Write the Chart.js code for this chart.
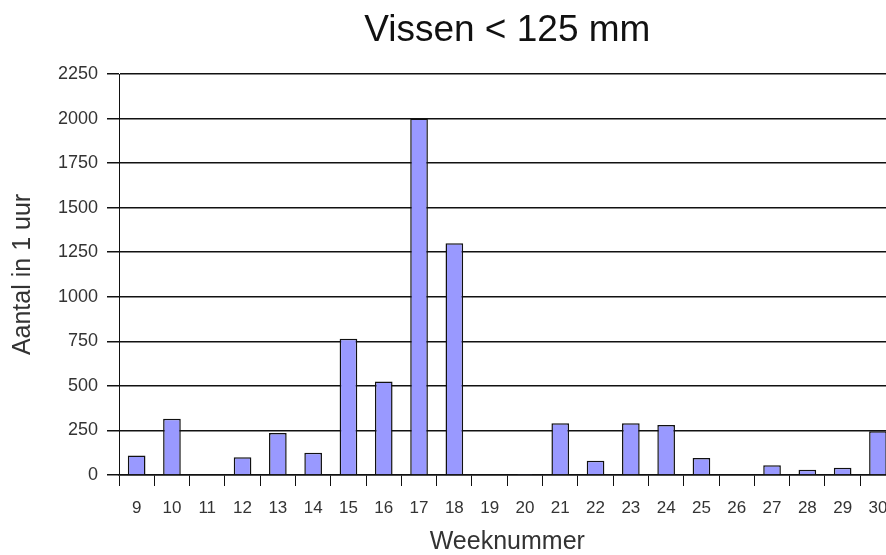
<!DOCTYPE html>
<html lang="nl">
<head>
    <meta charset="UTF-8">
    <title>Vissen &lt; 125 mm</title>
    <script src="https://cdn.jsdelivr.net/npm/chart.js"></script>
    <style>
        html, body {
            margin: 0;
            padding: 0;
            background: #ffffff;
            overflow: hidden;
        }
        .chart-container {
            width: 900px;
            height: 555px;
        }
    </style>
</head>
<body>
    <div class="chart-container">
        <canvas id="fish-chart" width="900" height="555"></canvas>
    </div>

    <script>
        // Weeknummers (x-as)
        const weeks = ['9', '10', '11', '12', '13', '14', '15', '16', '17', '18', '19',
                       '20', '21', '22', '23', '24', '25', '26', '27', '28', '29', '30'];

        // Aantal vissen < 125 mm per uur
        const counts = [110, 315, 0, 100, 235, 125, 765, 525, 2000, 1300, 0,
                        6, 290, 80, 290, 280, 95, 0, 55, 30, 40, 245];

        // y-as
        const yMin = 0;
        const yMax = 2250;
        const yStep = 250;

        const fontFamily = '"Liberation Sans", Arial, sans-serif';

        const ctx = document.getElementById('fish-chart').getContext('2d');

        new Chart(ctx, {
            type: 'bar',
            data: {
                labels: weeks,
                datasets: [{
                    label: 'Vissen < 125 mm',
                    data: counts,
                    backgroundColor: '#9999ff',
                    borderColor: '#111111',
                    borderWidth: 1.5,
                    borderSkipped: 'bottom',
                    barPercentage: 0.5,
                    categoryPercentage: 1.0
                }]
            },
            options: {
                responsive: false,
                animation: false,
                layout: {
                    padding: { left: 0, right: 4, top: 0, bottom: 0 }
                },
                plugins: {
                    legend: { display: false },
                    tooltip: { enabled: false },
                    title: {
                        display: true,
                        text: 'Vissen < 125 mm',
                        fullSize: false,
                        color: '#111111',
                        font: { family: fontFamily, size: 37, weight: 'normal', lineHeight: 1.2 },
                        padding: { top: 9, bottom: 20.6 }
                    }
                },
                scales: {
                    x: {
                        grid: {
                            display: true,
                            offset: true,
                            drawOnChartArea: false,
                            drawTicks: true,
                            tickLength: 11,
                            color: '#111111',
                            lineWidth: 1
                        },
                        border: { display: true, color: '#111111', width: 1.5 },
                        ticks: {
                            color: '#333333',
                            padding: 12.5,
                            maxRotation: 0,
                            autoSkip: false,
                            font: { family: fontFamily, size: 17 }
                        },
                        title: {
                            display: true,
                            text: 'Weeknummer',
                            color: '#333333',
                            font: { family: fontFamily, size: 25, lineHeight: 1 },
                            padding: { top: 0, bottom: 0 }
                        },
                        afterFit: (scale) => { scale.height = 80; }
                    },
                    y: {
                        min: yMin,
                        max: yMax,
                        ticks: {
                            stepSize: yStep,
                            color: '#333333',
                            padding: 9,
                            font: { family: fontFamily, size: 18 },
                            callback: (value) => String(value)
                        },
                        grid: {
                            display: true,
                            drawTicks: true,
                            tickLength: 12,
                            color: '#111111',
                            lineWidth: 1.5
                        },
                        border: { display: true, color: '#111111', width: 1 },
                        title: {
                            display: true,
                            text: 'Aantal in 1 uur',
                            color: '#333333',
                            font: { family: fontFamily, size: 25, lineHeight: 1.2 },
                            padding: { top: 8, bottom: 10 }
                        },
                        afterFit: (scale) => { scale.width = 119; }
                    }
                }
            }
        });
    </script>
</body>
</html>
